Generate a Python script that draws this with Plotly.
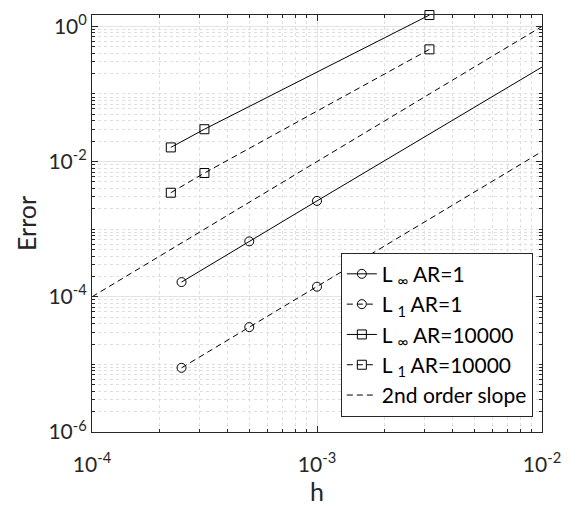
import numpy as np
import plotly.graph_objects as go

# data
h_ar1 = [2.5e-4, 5e-4, 1e-3, 1e-2]
linf_ar1 = [1.65e-4, 6.6e-4, 2.62e-3, 0.25]
l1_ar1 = [8.9e-6, 3.56e-5, 1.41e-4, 0.0141]
h_ar1e4 = [2.24e-4, 3.16e-4, 3.16e-3]
linf_ar1e4 = [0.0162, 0.0301, 1.47]
l1_ar1e4 = [3.46e-3, 6.77e-3, 0.457]
h_slope = [1e-4, 1e-2]
slope_err = [1e-4, 1.0]

x_major = [1e-4, 1e-3, 1e-2]
x_major_text = ["10<sup>-4</sup>", "10<sup>-3</sup>", "10<sup>-2</sup>"]
y_major = [1e-6, 1e-4, 1e-2, 1e0]
y_major_text = ["10<sup>-6</sup>", "10<sup>-4</sup>", "10<sup>-2</sup>", "10<sup>0</sup>"]

FONT = "Lato"
BLACK = "#000000"
TXT = "#262626"

def is_in(v, lst):
    return any(abs(v - t) / t < 1e-9 for t in lst)

x_minor = [m * 10.0 ** e for e in range(-4, -2) for m in range(1, 10)]
x_minor = [v for v in x_minor if not is_in(v, x_major)]
y_minor = [m * 10.0 ** e for e in range(-6, 1) for m in range(1, 10)]
y_minor = [v for v in y_minor if not is_in(v, y_major)]

INF = "<sub>∞</sub>"
ONE = "<sub>1</sub>"

fig = go.Figure()
fig.add_trace(go.Scatter(x=h_ar1, y=linf_ar1, mode="lines+markers",
                         name="L " + INF + " AR=1",
                         line=dict(color=BLACK, width=1),
                         marker=dict(symbol="circle-open", size=9, color=BLACK, line=dict(width=1)),
                         cliponaxis=False))
fig.add_trace(go.Scatter(x=h_ar1, y=l1_ar1, mode="lines+markers",
                         name="L " + ONE + " AR=1",
                         line=dict(color=BLACK, width=1, dash="6px,4px"),
                         marker=dict(symbol="circle-open", size=9, color=BLACK, line=dict(width=1)),
                         cliponaxis=False))
fig.add_trace(go.Scatter(x=h_ar1e4, y=linf_ar1e4, mode="lines+markers",
                         name="L " + INF + " AR=10000",
                         line=dict(color=BLACK, width=1),
                         marker=dict(symbol="square-open", size=9, color=BLACK, line=dict(width=1)),
                         cliponaxis=False))
fig.add_trace(go.Scatter(x=h_ar1e4, y=l1_ar1e4, mode="lines+markers",
                         name="L " + ONE + " AR=10000",
                         line=dict(color=BLACK, width=1, dash="6px,4px"),
                         marker=dict(symbol="square-open", size=9, color=BLACK, line=dict(width=1)),
                         cliponaxis=False))
fig.add_trace(go.Scatter(x=h_slope, y=slope_err, mode="lines",
                         name="2nd order slope",
                         line=dict(color=BLACK, width=1, dash="6px,4px")))

axis_common = dict(
    type="log", showline=True, linecolor=TXT, linewidth=1, mirror="ticks",
    ticks="inside", ticklen=6, tickcolor=TXT,
    showgrid=True, gridcolor="#e3e3e3", gridwidth=1, zeroline=False,
    tickfont=dict(family=FONT, size=21, color=TXT),
)
minor_common = dict(ticks="inside", ticklen=3, tickcolor=TXT,
                    showgrid=True, gridcolor="#dedede", griddash="dot", gridwidth=1)

fig.update_layout(
    width=571, height=513,
    margin=dict(l=92, r=25, t=10, b=81),
    paper_bgcolor="white", plot_bgcolor="white",
    font=dict(family=FONT, size=20, color=TXT),
    xaxis=dict(**axis_common, range=[-4, -2], tickvals=x_major, ticktext=x_major_text,
               ticklabelstandoff=14,
               minor=dict(tickvals=x_minor, **minor_common),
               title=dict(text="h", font=dict(family=FONT, size=25, color=TXT), standoff=6)),
    yaxis=dict(**axis_common, range=[-6, 0.168], tickvals=y_major, ticktext=y_major_text,
               minor=dict(tickvals=y_minor, **minor_common),
               title=dict(text="Error", font=dict(family=FONT, size=25, color=TXT), standoff=4)),
    legend=dict(x=0.553, y=0.43, xanchor="left", yanchor="top",
                bgcolor="white", bordercolor=TXT, borderwidth=1,
                font=dict(family=FONT, size=21, color=BLACK),
                tracegroupgap=0),
    showlegend=True,
)

fig.write_html("out.html")
